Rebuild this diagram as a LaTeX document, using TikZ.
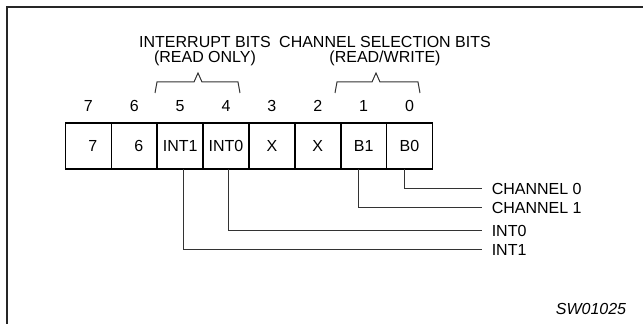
\documentclass[tikz,border=0pt]{standalone}
\usepackage{fontspec}
\setmainfont{Liberation Sans}
\usetikzlibrary{positioning}
\tikzset{bit box/.style={
        draw, line width=1.2pt, minimum width=34.4pt, minimum height=34.5pt,
        inner sep=0pt, anchor=west,
        outer sep=0pt, % neighbouring borders lie on top of each other
    },
    bit number/.style={
        inner sep=0pt
    },
    bit label/.style={
        anchor=west, inner ysep=0pt, inner xsep=7.5pt
    },
    bit link/.style={
        draw=black!80, line width=0.75pt
    },
}

\begin{document}
\begin{tikzpicture}[x=0.75pt, y=-0.75pt, every node/.append style={font=\fontsize{12}{11.25}\selectfont}]
    \useasboundingbox (0,0) rectangle (643,324);
    \draw [line width=1.5pt, black!85] (643,7) -- (7,7) -- (7,324);

    %% the register, one box per bit
        \node [bit box] at (65.5,146) (bit7) {\phantom{0}7};
        \node [bit box] at (bit7.east) (bit6) {\phantom{0}6};
        \node [bit box] at (bit6.east) (bit5) {INT1};
        \node [bit box] at (bit5.east) (bit4) {INT0};
        \node [bit box] at (bit4.east) (bit3) {X};
        \node [bit box] at (bit3.east) (bit2) {X};
        \node [bit box] at (bit2.east) (bit1) {B1};
        \node [bit box] at (bit1.east) (bit0) {B0};

    %% bit numbers over the boxes
        \foreach \b in {7,...,0}
            \node [bit number, above=8.6pt of bit\b] {\b};

    %% the two groups, with their braces
        \draw [bit link] (155,93) -- (157,82) -- (194,82) -- (198,73) -- (202,82) -- (238,82) -- (240,93);
        \draw [bit link] (335,93) -- (337,82) -- (372,82) -- (376,73) -- (380,82) -- (418,82) -- (420,93);
        \node [align=center] at (205,51) (int title) {INTERRUPT BITS\\(READ ONLY)};
        \node [align=center] at (385,51) (ch title) {CHANNEL SELECTION BITS\\(READ/WRITE)};

    %% where each bit goes
        \node [bit label] at (481.5,189) (ch0 out) {CHANNEL 0};
        \node [bit label] at (481.5,208) (ch1 out) {CHANNEL 1};
        \node [bit label] at (481.5,231) (int0 out) {INT0};
        \node [bit label] at (481.5,250) (int1 out) {INT1};
        \draw [bit link] ([xshift=-3.7pt]bit0.south) |- (ch0 out.west);
        \draw [bit link] ([xshift=-3.7pt]bit1.south) |- (ch1 out.west);
        \draw [bit link] ([xshift=2pt]bit4.south) |- (int0 out.west);
        \draw [bit link] ([xshift=2.3pt]bit5.south) |- (int1 out.west);

        \node at (591,309) (fig id) {\itshape SW01025};
\end{tikzpicture}
\end{document}
